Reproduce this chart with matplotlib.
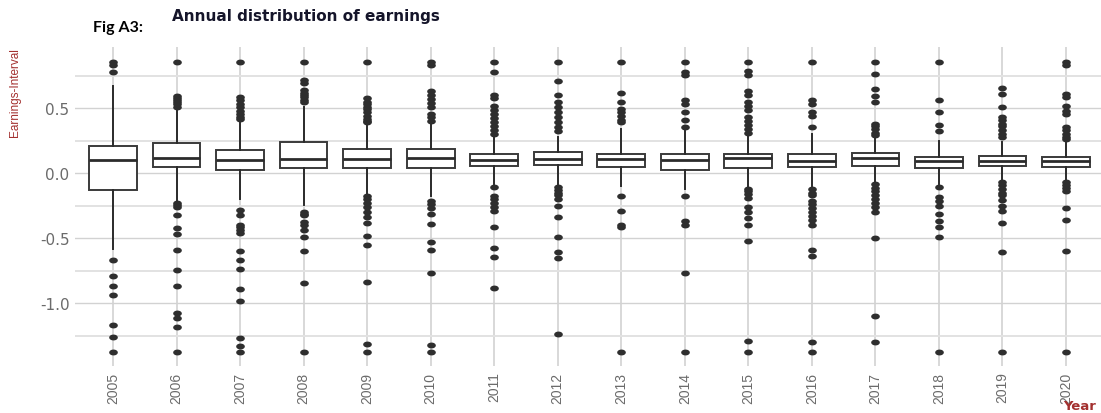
import matplotlib
matplotlib.use("Agg")
import matplotlib.pyplot as plt
from matplotlib.path import Path
import numpy as np

# yearly earnings summary (quartiles, whisker ends and outlying points)
years = [str(y) for y in range(2005, 2021)]
q1 = [-0.128, 0.048, 0.023, 0.043, 0.041, 0.041, 0.054, 0.061,
      0.049, 0.028, 0.041, 0.046, 0.059, 0.041, 0.059, 0.046]
med = [0.100, 0.115, 0.100, 0.112, 0.110, 0.115, 0.102, 0.110,
       0.110, 0.100, 0.115, 0.097, 0.115, 0.090, 0.097, 0.092]
q3 = [0.207, 0.230, 0.177, 0.238, 0.184, 0.184, 0.148, 0.161,
      0.148, 0.148, 0.148, 0.148, 0.156, 0.128, 0.136, 0.128]
whis_lo = [-0.582, -0.218, -0.198, -0.241, -0.159, -0.177, -0.085, -0.090,
           -0.095, -0.120, -0.108, -0.108, -0.069, -0.082, -0.056, -0.056]
whis_hi = [0.674, 0.500, 0.390, 0.507, 0.377, 0.392, 0.284, 0.277,
           0.336, 0.328, 0.290, 0.302, 0.277, 0.251, 0.238, 0.238]
fliers = [
    [0.854, 0.83, 0.78, -0.667, -0.79, -0.864, -0.939, -1.167, -1.262, -1.377],
    [0.854, 0.59, 0.575, 0.56, 0.545, 0.533, 0.51, -0.23, -0.245, -0.26, -0.323,
     -0.423, -0.47, -0.59, -0.747, -0.864, -1.072, -1.113, -1.18, -1.377],
    [0.854, 0.584, 0.56, 0.535, 0.51, 0.48, 0.455, 0.43, 0.418, -0.28, -0.32,
     -0.395, -0.415, -0.435, -0.46, -0.60, -0.67, -0.736, -0.89, -0.985,
     -1.27, -1.33, -1.377],
    [0.854, 0.72, 0.695, 0.636, 0.62, 0.60, 0.585, 0.56, 0.546, -0.295, -0.31,
     -0.325, -0.372, -0.40, -0.438, -0.494, -0.596, -0.845, -1.377],
    [0.854, 0.576, 0.55, 0.53, 0.51, 0.49, 0.474, 0.443, 0.42, 0.40, 0.392,
     -0.172, -0.2, -0.23, -0.26, -0.3, -0.34, -0.382, -0.485, -0.552, -0.836,
     -1.31, -1.377],
    [0.854, 0.828, 0.63, 0.60, 0.57, 0.54, 0.51, 0.456, 0.43, 0.405, -0.21,
     -0.24, -0.27, -0.31, -0.39, -0.53, -0.588, -0.77, -1.32, -1.377],
    [0.854, 0.777, 0.60, 0.58, 0.52, 0.482, 0.456, 0.423, 0.392, 0.366, 0.335,
     0.302, -0.108, -0.172, -0.2, -0.23, -0.26, -0.287, -0.416, -0.575,
     -0.642, -0.886],
    [0.854, 0.705, 0.602, 0.55, 0.507, 0.469, 0.43, 0.392, 0.353, 0.328,
     -0.108, -0.13, -0.15, -0.17, -0.2, -0.249, -0.339, -0.493, -0.608,
     -0.654, -1.236],
    [0.854, 0.618, 0.546, 0.495, 0.469, 0.438, 0.412, 0.392, -0.177, -0.293,
     -0.40, -0.415, -1.377],
    [0.854, 0.777, 0.752, 0.56, 0.53, 0.469, 0.41, 0.358, -0.172, -0.364,
     -0.402, -0.769, -1.377],
    [0.854, 0.782, 0.756, 0.628, 0.602, 0.551, 0.515, 0.482, 0.43, 0.405,
     0.372, 0.341, 0.31, -0.12, -0.14, -0.16, -0.19, -0.26, -0.3, -0.344,
     -0.402, -0.525, -1.292, -1.377],
    [0.854, 0.566, 0.533, 0.474, 0.438, 0.358, -0.12, -0.15, -0.17, -0.21,
     -0.24, -0.27, -0.3, -0.33, -0.36, -0.40, -0.587, -0.633, -1.297, -1.377],
    [0.854, 0.764, 0.648, 0.59, 0.551, 0.38, 0.36, 0.34, 0.31, 0.29, -0.082,
     -0.11, -0.14, -0.17, -0.2, -0.23, -0.26, -0.3, -0.5, -1.1, -1.297],
    [0.854, 0.561, 0.474, 0.374, 0.328, -0.103, -0.18, -0.21, -0.25, -0.316,
     -0.364, -0.41, -0.492, -1.377],
    [0.656, 0.61, 0.507, 0.43, 0.41, 0.38, 0.36, 0.33, 0.30, 0.28, -0.066,
     -0.09, -0.12, -0.15, -0.17, -0.203, -0.249, -0.287, -0.385, -0.608,
     -1.377],
    [0.854, 0.828, 0.61, 0.584, 0.52, 0.48, 0.455, 0.355, 0.33, 0.30, 0.28,
     0.26, -0.066, -0.09, -0.11, -0.14, -0.265, -0.36, -0.596, -1.377],
]

stats = []
for i in range(len(years)):
    stats.append({"q1": q1[i], "med": med[i], "q3": q3[i],
                  "whislo": whis_lo[i], "whishi": whis_hi[i],
                  "fliers": fliers[i], "label": years[i]})

# slightly squashed dot for outliers
t = np.linspace(0, 2 * np.pi, 40)
dot = Path(np.column_stack([np.cos(t), 0.62 * np.sin(t)]), closed=True)

fig = plt.figure(figsize=(11.01, 4.14), dpi=100)
fig.patch.set_facecolor("white")
ax = fig.add_axes([75 / 1101, 47 / 414, 1029 / 1101, 319 / 414])

edge = "#3a3a3a"
ax.bxp(stats, positions=range(len(years)), widths=0.75, showcaps=False,
       patch_artist=True,
       boxprops=dict(facecolor="white", edgecolor=edge, linewidth=1.4),
       medianprops=dict(color="#2b2b2b", linewidth=2.0),
       whiskerprops=dict(color="#2b2b2b", linewidth=1.4),
       flierprops=dict(marker=dot, markersize=5.2, markerfacecolor="#2e2e2e",
                       markeredgecolor="#2e2e2e", linestyle="none"))

ax.set_xlim(-0.6, 15.6)
ax.set_ylim(-1.482, 0.97)
ax.set_yticks([-1.0, -0.5, 0.0, 0.5])
ax.set_yticks([-1.25, -0.75, -0.25, 0.25, 0.75], minor=True)
ax.set_yticklabels(["-1.0", "-0.5", "0.0", "0.5"], fontsize=11,
                   color="#6b6b6b")
ax.set_xticks(range(len(years)))
ax.set_xticklabels(years, rotation=90, fontsize=10, color="#6b6b6b",
                   family=["Liberation Sans", "DejaVu Sans"])
ax.tick_params(length=0, pad=4)
ax.tick_params(axis="y", which="minor", length=0)

ax.grid(axis="x", color="#d6d6d6", linewidth=1.3)
ax.grid(axis="y", which="major", color="#d2d2d2", linewidth=1.0)
ax.grid(axis="y", which="minor", color="#e2e2e2", linewidth=1.4)
ax.set_axisbelow(True)
for s in ax.spines.values():
    s.set_visible(False)

fig.text(172 / 1101, 1 - 17 / 414, "Annual distribution of earnings",
         fontsize=11, fontweight="bold", color="#15152a", ha="left",
         va="center")
fig.text(93 / 1101, 1 - 28 / 414, "Fig A3:", fontsize=11.5,
         fontweight="bold", color="black", ha="left", va="center",
         family=["Lato", "DejaVu Sans"])
fig.text(15 / 1101, 1 - 48 / 414, "Earnings-Interval", rotation=90,
         fontsize=8.5, color="#a3302f", ha="center", va="top",
         family=["Liberation Sans", "DejaVu Sans"])
# axis title in the lower right corner
fig.text(1063 / 1101, 1 / 414, "Year", fontsize=9.5,
         fontweight="bold", color="#a3302f", ha="left", va="bottom")

fig.savefig("out.png", dpi=100)
